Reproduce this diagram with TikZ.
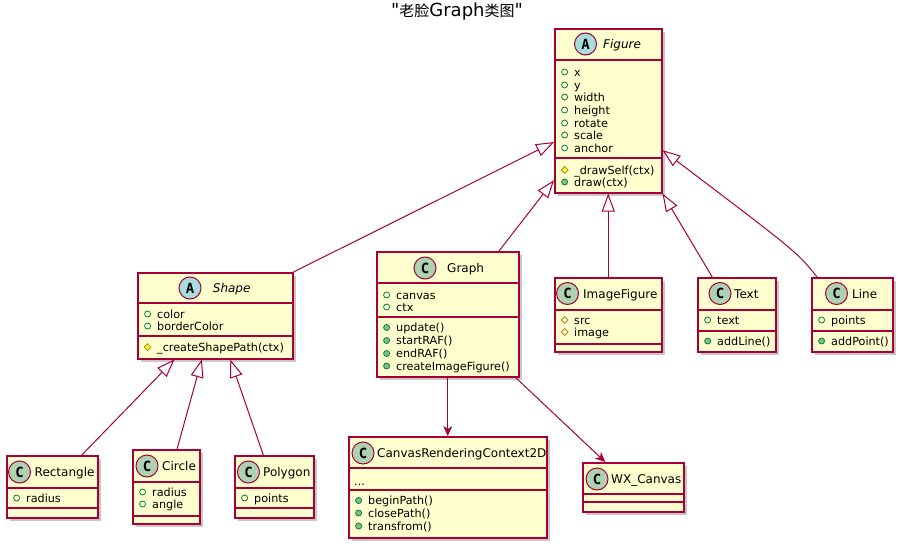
\documentclass[tikz,border=0pt]{standalone}
\usepackage{fontspec}
\setmainfont{DejaVu Sans}
\newfontfamily\cjk{Noto Sans CJK SC}
\newfontfamily\iconfont{DejaVu Sans Mono}
\usetikzlibrary{arrows.meta}
\usetikzlibrary{shapes.geometric}
\usetikzlibrary{shadows}
\definecolor{umlred}{HTML}{A80036}
\definecolor{umlfill}{HTML}{FEFECE}
\definecolor{ciconfill}{HTML}{ADD1B2}
\definecolor{aiconfill}{HTML}{A9DCDF}
\definecolor{pubgreen}{HTML}{038048}
\definecolor{pubfill}{HTML}{84BE84}
\definecolor{protline}{HTML}{B38D22}
\definecolor{protfill}{HTML}{FFFF44}
\tikzset{
  classbox/.style={draw=umlred, fill=umlfill, line width=1.5pt, inner sep=0pt, anchor=north west,
    drop shadow={shadow xshift=3pt, shadow yshift=-3pt, fill=black, opacity=0.22}},
  sepline/.style={draw=umlred, line width=1.5pt},
  cicon/.style={circle, draw=umlred, fill=ciconfill, line width=1pt, minimum size=22pt, inner sep=0pt,
    font=\iconfont\bfseries\fontsize{14}{14}\selectfont},
  aicon/.style={cicon, fill=aiconfill},
  cname/.style={anchor=west, inner sep=0pt, text height=9pt, text depth=0pt, font=\fontsize{12}{14}\selectfont},
  aname/.style={cname, font=\itshape\fontsize{12}{14}\selectfont},
  mem/.style={anchor=west, inner sep=0pt, text height=8pt, text depth=0pt, font=\fontsize{11.2}{13}\selectfont},
  pa/.style={mem, label={[circle, draw=pubgreen, line width=0.8pt, minimum size=6pt, inner sep=0pt, label distance=6pt]west:{}}},
  pm/.style={mem, label={[circle, draw=pubgreen, fill=pubfill, line width=0.8pt, minimum size=6pt, inner sep=0pt, label distance=6pt]west:{}}},
  ka/.style={mem, label={[diamond, aspect=1, draw=protline, line width=0.8pt, minimum size=7pt, inner sep=0pt, label distance=5.5pt]west:{}}},
  km/.style={mem, label={[diamond, aspect=1, draw=protline, fill=protfill, line width=0.8pt, minimum size=7pt, inner sep=0pt, label distance=5.5pt]west:{}}},
  extends/.style={draw=umlred, line width=1pt, -{Triangle[open, length=18pt, width=13pt]}},
  uses/.style={draw=umlred, line width=1pt, -{Stealth[length=10pt, width=9pt, inset=3pt]}}
}
\begin{document}
\begin{tikzpicture}[x=1pt, y=-1pt]
\useasboundingbox (0,0) rectangle (902,546);

\node[font=\fontsize{18}{20}\selectfont, inner sep=0pt] (title) at (457,12) {\textquotedbl{\cjk\fontsize{15}{15}\selectfont 老脸}Graph{\cjk\fontsize{15}{15}\selectfont 类图}\textquotedbl};

\node[classbox, minimum width=107pt, minimum height=164pt] (figure) at (554,28) {};
\draw[sepline] (554,60) -- (661,60);
\draw[sepline] (554,158) -- (661,158);
\node[aicon] (figure-icon) at (585.5,44) {A};
\node[aname] (figure-name) at (603,44) {Figure};
\node[pa] (figure-x) at (574,72) {x};
\node[pa] (figure-y) at (574,85) {y};
\node[pa] (figure-w) at (574,97) {width};
\node[pa] (figure-h) at (574,110) {height};
\node[pa] (figure-r) at (574,123) {rotate};
\node[pa] (figure-s) at (574,135) {scale};
\node[pa] (figure-a) at (574,148) {anchor};
\node[km] (figure-ds) at (574,170) {\_drawSelf(ctx)};
\node[pm] (figure-d) at (574,182) {draw(ctx)};

\node[classbox, minimum width=155pt, minimum height=86pt] (shape) at (137,272) {};
\draw[sepline] (137,303) -- (292,303);
\draw[sepline] (137,336) -- (292,336);
\node[aicon] (shape-icon) at (190,288) {A};
\node[aname] (shape-name) at (212.7,288) {Shape};
\node[pa] (shape-c) at (157,314) {color};
\node[pa] (shape-bc) at (157,326) {borderColor};
\node[km] (shape-csp) at (157,347) {\_createShapePath(ctx)};

\node[classbox, minimum width=142pt, minimum height=125pt] (graph) at (376,251) {};
\draw[sepline] (376,283) -- (518,283);
\draw[sepline] (376,317) -- (518,317);
\node[cicon] (graph-icon) at (425,268) {C};
\node[cname] (graph-name) at (447,268) {Graph};
\node[pa] (graph-cv) at (396,295) {canvas};
\node[pa] (graph-ctx) at (396,307) {ctx};
\node[pm] (graph-up) at (396,327.5) {update()};
\node[pm] (graph-sr) at (396,340.5) {startRAF()};
\node[pm] (graph-er) at (396,353.5) {endRAF()};
\node[pm] (graph-cif) at (396,366) {createImageFigure()};

\node[classbox, minimum width=107pt, minimum height=74pt] (imagefig) at (554,277) {};
\draw[sepline] (554,310) -- (661,310);
\draw[sepline] (554,344) -- (661,344);
\node[cicon] (imagefig-icon) at (567.5,293.5) {C};
\node[cname] (imagefig-name) at (583,293.5) {ImageFigure};
\node[ka] (imagefig-src) at (574,320) {src};
\node[ka] (imagefig-img) at (574,332) {image};

\node[classbox, minimum width=78pt, minimum height=74pt] (textcls) at (697,277) {};
\draw[sepline] (697,310) -- (775,310);
\draw[sepline] (697,331) -- (775,331);
\node[cicon] (textcls-icon) at (720,293.5) {C};
\node[cname] (textcls-name) at (734,293.5) {Text};
\node[pa] (textcls-t) at (717,320) {text};
\node[pm] (textcls-al) at (717,341) {addLine()};

\node[classbox, minimum width=81pt, minimum height=74pt] (linecls) at (811,277) {};
\draw[sepline] (811,310) -- (892,310);
\draw[sepline] (811,331) -- (892,331);
\node[cicon] (linecls-icon) at (836.5,293.5) {C};
\node[cname] (linecls-name) at (852,293.5) {Line};
\node[pa] (linecls-p) at (831,320) {points};
\node[pm] (linecls-ap) at (831,341) {addPoint()};

\node[classbox, minimum width=91pt, minimum height=62pt] (rect) at (6,455) {};
\draw[sepline] (6,488) -- (97,488);
\draw[sepline] (6,508) -- (97,508);
\node[cicon] (rect-icon) at (19.5,472) {C};
\node[cname] (rect-name) at (34.5,472) {Rectangle};
\node[pa] (rect-r) at (26,498) {radius};

\node[classbox, minimum width=67pt, minimum height=74pt] (circ) at (132,449) {};
\draw[sepline] (132,482) -- (199,482);
\draw[sepline] (132,516) -- (199,516);
\node[cicon] (circ-icon) at (147,466) {C};
\node[cname] (circ-name) at (162,466) {Circle};
\node[pa] (circ-r) at (152,492) {radius};
\node[pa] (circ-a) at (152,504) {angle};

\node[classbox, minimum width=79pt, minimum height=62pt] (poly) at (234,455) {};
\draw[sepline] (234,488) -- (313,488);
\draw[sepline] (234,508) -- (313,508);
\node[cicon] (poly-icon) at (248.5,472) {C};
\node[cname] (poly-name) at (263,472) {Polygon};
\node[pa] (poly-p) at (254,498) {points};

\node[classbox, minimum width=198pt, minimum height=101pt] (crc) at (348,436) {};
\draw[sepline] (348,468) -- (546,468);
\draw[sepline] (348,490) -- (546,490);
\node[cicon] (crc-icon) at (363,453) {C};
\node[cname] (crc-name) at (377,453) {CanvasRenderingContext2D};
\node[mem] (crc-dots) at (354,481) {...};
\node[pm] (crc-bp) at (368,500.5) {beginPath()};
\node[pm] (crc-cp) at (368,513) {closePath()};
\node[pm] (crc-tf) at (368,526) {transfrom()};

\node[classbox, minimum width=101pt, minimum height=49pt] (wx) at (582,462) {};
\draw[sepline] (582,494) -- (683,494);
\draw[sepline] (582,502) -- (683,502);
\node[cicon] (wx-icon) at (597,479) {C};
\node[cname] (wx-name) at (611,479) {WX\_Canvas};

\draw[extends] (shape.north east) -- (figure.210);
\draw[extends] (graph.51) -- (figure.232);
\draw[extends] (imagefig.north) -- (figure.south);
\draw[extends] (textcls.123) -- (figure.south east);
\draw[extends] (linecls.133) .. controls (797,252) .. (figure.-36);
\draw[extends] (rect.47) -- (shape.227);
\draw[extends] (circ.74) -- (shape.253);
\draw[extends] (poly.109) -- (shape.289);
\draw[uses] (graph.south) -- (crc.north);
\draw[uses] (graph.-43) -- (wx.138);
\end{tikzpicture}
\end{document}
